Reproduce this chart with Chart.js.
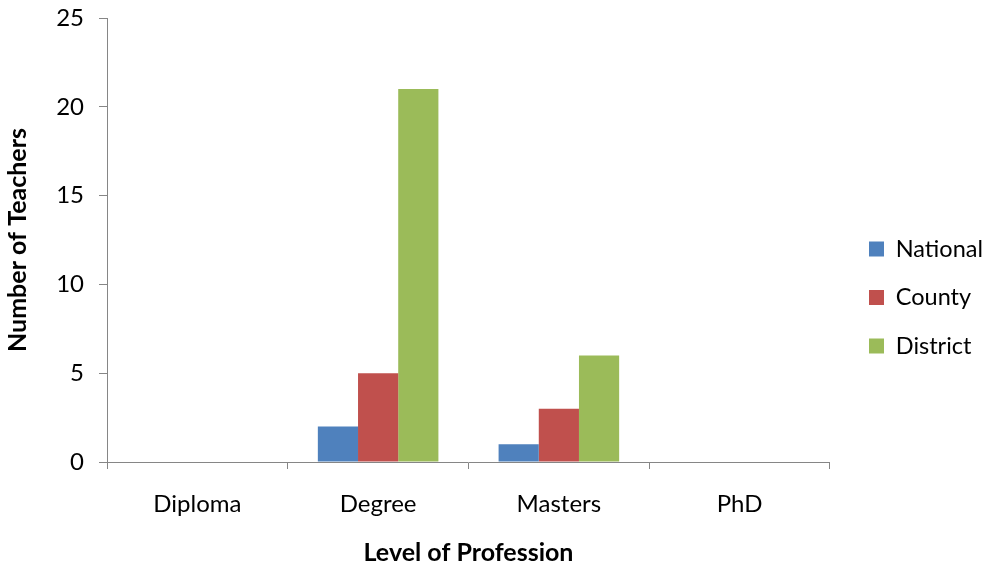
<!DOCTYPE html>
<html>
<head>
<meta charset="utf-8">
<script src="https://cdn.jsdelivr.net/npm/chart.js@4.4.1/dist/chart.umd.min.js"></script>
<style>
  html, body { margin: 0; padding: 0; background: #ffffff; }
  #wrap { width: 984px; height: 569px; }
</style>
</head>
<body>
<div id="wrap"><canvas id="chart" width="984" height="569"></canvas></div>
<script>
// Teachers by level of professional qualification and school category
const categories = ['Diploma', 'Degree', 'Masters', 'PhD'];
const national = [0, 2, 1, 0];
const county = [0, 5, 3, 0];
const district = [0, 21, 6, 0];
const yTicks = [0, 5, 10, 15, 20, 25];

const FONT = 'Lato, "Liberation Sans", sans-serif';
const AXIS_GREY = '#868686';

// Push the legend a little further right of the plot than its own padding allows
const legendShift = {
  id: 'legendShift',
  afterLayout(chart) {
    const lg = chart.legend;
    if (lg) { lg.left += 14; lg.right += 14; }
  }
};

new Chart(document.getElementById('chart'), {
  type: 'bar',
  data: {
    labels: categories,
    datasets: [
      { label: 'National', data: national, backgroundColor: '#4F81BD' },
      { label: 'County', data: county, backgroundColor: '#C0504D' },
      { label: 'District', data: district, backgroundColor: '#9BBB59' }
    ]
  },
  plugins: [legendShift],
  options: {
    responsive: false,
    animation: false,
    devicePixelRatio: 1,
    layout: { padding: { top: 18, left: 0, right: 5, bottom: -8 } },
    datasets: { bar: { categoryPercentage: 0.667, barPercentage: 1.0 } },
    plugins: {
      tooltip: { enabled: false },
      legend: {
        position: 'right',
        labels: {
          font: { family: FONT, size: 23.5 },
          color: '#000000',
          boxWidth: 15,
          boxHeight: 15,
          padding: 25
        }
      }
    },
    scales: {
      x: {
        grid: { display: true, drawOnChartArea: false, drawTicks: true, tickLength: 7, color: AXIS_GREY, offset: true },
        border: { display: true, color: AXIS_GREY, width: 1 },
        ticks: { font: { family: FONT, size: 24 }, color: '#000000', padding: 21 },
        title: { display: true, text: 'Level of Profession', font: { family: FONT, size: 25, weight: 'bold' }, color: '#000000', padding: { top: 20, bottom: 9 } },
        afterFit(scale) { scale.height = 115; }
      },
      y: {
        min: 0,
        max: 25,
        afterBuildTicks(scale) { scale.ticks = yTicks.map(v => ({ value: v })); },
        grid: { display: true, drawOnChartArea: false, drawTicks: true, tickLength: 8, color: AXIS_GREY },
        border: { display: true, color: AXIS_GREY, width: 1 },
        ticks: { font: { family: FONT, size: 24 }, color: '#000000', padding: 15 },
        title: { display: true, text: 'Number of Teachers', font: { family: FONT, size: 25, weight: 'bold' }, color: '#000000', padding: { top: 3, bottom: 0 } },
        afterFit(scale) { scale.width = 107; scale.paddingTop = 0; }
      }
    }
  }
});
</script>
</body>
</html>
